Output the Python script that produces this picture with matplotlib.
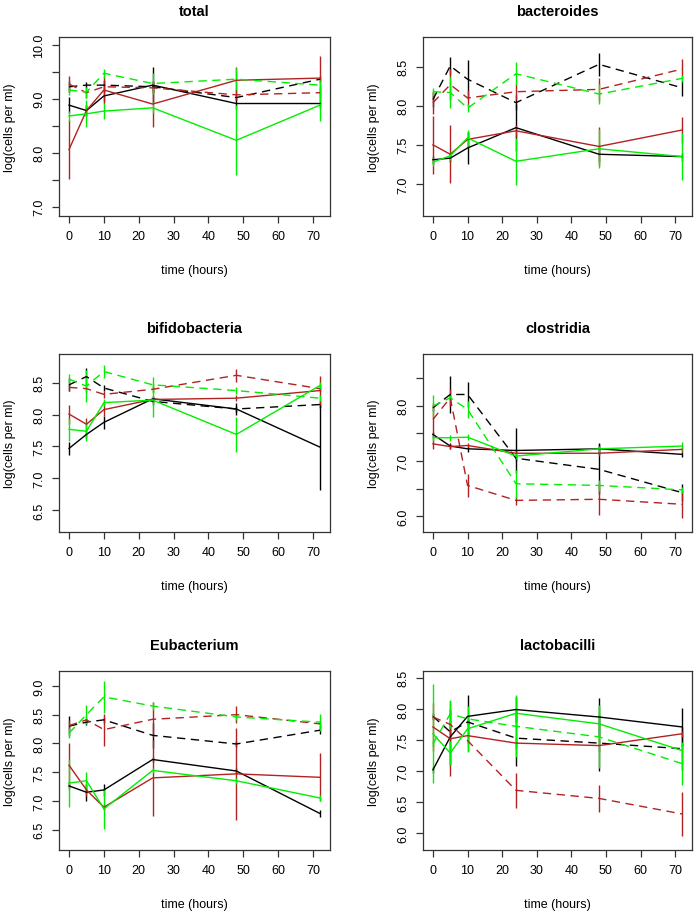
import matplotlib
matplotlib.use("Agg")
import matplotlib.pyplot as plt

plt.rcParams['font.family'] = ['Liberation Sans', 'DejaVu Sans']

# sampling times (hours)
times = [0, 5, 10, 24, 48, 72]

panel_names = ['total', 'bacteroides', 'bifidobacteria', 'clostridia',
               'Eubacterium', 'lactobacilli']

# series order: black solid, black dashed, red solid, red dashed, green solid, green dashed
total_means = [
    [8.88, 8.78, 9.05, 9.25, 8.91, 8.91],
    [9.22, 9.25, 9.25, 9.22, 9.02, 9.36],
    [8.06, 8.78, 9.16, 8.90, 9.34, 9.38],
    [9.27, 9.11, 9.22, 9.20, 9.07, 9.11],
    [8.68, 8.72, 8.77, 8.83, 8.23, 8.88],
    [9.16, 9.12, 9.47, 9.28, 9.36, 9.25],
]
total_errs = [
    [0.15, 0.10, 0.10, 0.33, 0.10, 0.08],
    [0.10, 0.05, 0.10, 0.10, 0.05, 0.05],
    [0.55, 0.10, 0.25, 0.42, 0.25, 0.40],
    [0.15, 0.10, 0.10, 0.10, 0.10, 0.10],
    [0.10, 0.25, 0.15, 0.10, 0.65, 0.30],
    [0.10, 0.10, 0.08, 0.20, 0.20, 0.10],
]

bacteroides_means = [
    [7.31, 7.33, 7.46, 7.72, 7.38, 7.35],
    [8.08, 8.51, 8.34, 8.04, 8.53, 8.23],
    [7.50, 7.38, 7.57, 7.68, 7.48, 7.69],
    [8.04, 8.27, 8.10, 8.18, 8.21, 8.47],
    [7.28, 7.36, 7.59, 7.29, 7.45, 7.35],
    [8.18, 8.17, 7.97, 8.41, 8.15, 8.35],
]
bacteroides_errs = [
    [0.05, 0.05, 0.20, 0.30, 0.10, 0.05],
    [0.10, 0.12, 0.25, 0.10, 0.15, 0.10],
    [0.37, 0.37, 0.10, 0.08, 0.25, 0.17],
    [0.15, 0.20, 0.10, 0.10, 0.15, 0.13],
    [0.05, 0.05, 0.10, 0.30, 0.25, 0.30],
    [0.05, 0.20, 0.05, 0.15, 0.13, 0.05],
]

bifido_means = [
    [7.47, 7.69, 7.88, 8.25, 8.09, 7.49],
    [8.47, 8.60, 8.42, 8.21, 8.09, 8.16],
    [8.01, 7.85, 8.08, 8.24, 8.26, 8.38],
    [8.43, 8.41, 8.32, 8.40, 8.62, 8.41],
    [7.77, 7.74, 8.19, 8.23, 7.69, 8.46],
    [8.56, 8.45, 8.68, 8.47, 8.38, 8.26],
]
bifido_errs = [
    [0.10, 0.05, 0.10, 0.05, 0.10, 0.68],
    [0.10, 0.13, 0.05, 0.05, 0.05, 0.05],
    [0.15, 0.10, 0.10, 0.05, 0.05, 0.23],
    [0.05, 0.05, 0.05, 0.05, 0.10, 0.05],
    [0.18, 0.15, 0.05, 0.27, 0.27, 0.05],
    [0.08, 0.25, 0.10, 0.13, 0.05, 0.05],
]

clostridia_means = [
    [7.48, 7.27, 7.22, 7.19, 7.22, 7.12],
    [7.96, 8.20, 8.20, 7.05, 6.85, 6.43],
    [7.31, 7.26, 7.28, 7.14, 7.14, 7.21],
    [7.75, 8.14, 6.56, 6.29, 6.31, 6.22],
    [7.42, 7.42, 7.43, 7.09, 7.22, 7.27],
    [7.99, 8.14, 7.93, 6.59, 6.56, 6.48],
]
clostridia_errs = [
    [0.05, 0.05, 0.05, 0.40, 0.10, 0.05],
    [0.05, 0.33, 0.23, 0.05, 0.45, 0.15],
    [0.10, 0.05, 0.05, 0.05, 0.05, 0.05],
    [0.30, 0.15, 0.20, 0.08, 0.28, 0.25],
    [0.05, 0.05, 0.05, 0.05, 0.05, 0.08],
    [0.20, 0.05, 0.15, 0.25, 0.10, 0.05],
]

eubacterium_means = [
    [7.26, 7.15, 7.19, 7.72, 7.52, 6.78],
    [8.30, 8.37, 8.41, 8.14, 7.99, 8.23],
    [7.62, 7.19, 6.89, 7.40, 7.47, 7.41],
    [8.31, 8.41, 8.24, 8.42, 8.50, 8.34],
    [7.31, 7.35, 6.86, 7.53, 7.35, 7.05],
    [8.18, 8.50, 8.81, 8.65, 8.46, 8.37],
]
eubacterium_errs = [
    [0.05, 0.15, 0.10, 0.05, 0.05, 0.06],
    [0.17, 0.05, 0.05, 0.22, 0.05, 0.07],
    [0.38, 0.10, 0.05, 0.66, 0.80, 0.42],
    [0.10, 0.05, 0.28, 0.30, 0.15, 0.05],
    [0.42, 0.15, 0.35, 0.05, 0.05, 0.05],
    [0.08, 0.17, 0.28, 0.07, 0.05, 0.15],
]

lacto_means = [
    [7.02, 7.55, 7.88, 7.99, 7.87, 7.71],
    [7.88, 7.63, 7.79, 7.53, 7.45, 7.36],
    [7.71, 7.52, 7.57, 7.45, 7.41, 7.60],
    [7.87, 7.75, 7.49, 6.69, 6.56, 6.31],
    [7.60, 7.29, 7.68, 7.93, 7.76, 7.33],
    [7.44, 7.92, 7.84, 7.72, 7.55, 7.12],
]
lacto_errs = [
    [0.05, 0.45, 0.35, 0.20, 0.30, 0.30],
    [0.05, 0.05, 0.05, 0.45, 0.45, 0.35],
    [0.38, 0.60, 0.25, 0.10, 0.10, 0.05],
    [0.05, 0.05, 0.05, 0.28, 0.22, 0.35],
    [0.80, 0.20, 0.37, 0.27, 0.30, 0.10],
    [0.05, 0.23, 0.05, 0.50, 0.50, 0.35],
]

all_means = [total_means, bacteroides_means, bifido_means,
             clostridia_means, eubacterium_means, lacto_means]
all_errs = [total_errs, bacteroides_errs, bifido_errs,
            clostridia_errs, eubacterium_errs, lacto_errs]

# y ranges and tick layout of each panel
ylims = [(6.83, 10.14), (6.59, 8.88), (6.155, 8.955),
         (5.72, 8.93), (6.145, 9.26), (5.73, 8.61)]
yticks = [
    [7.0, 7.5, 8.0, 8.5, 9.0, 9.5, 10.0],
    [7.0, 7.5, 8.0, 8.5],
    [6.5, 7.0, 7.5, 8.0, 8.5],
    [6.0, 6.5, 7.0, 7.5, 8.0, 8.5],
    [6.5, 7.0, 7.5, 8.0, 8.5, 9.0],
    [6.0, 6.5, 7.0, 7.5, 8.0, 8.5],
]
only_integer_labels = [True, False, False, True, False, False]

colors = ['black', 'black', '#B22222', '#B22222', '#00EE00', '#00EE00']
styles = ['-', '--', '-', '--', '-', '--']

W, H = 694, 912
fig = plt.figure(figsize=(W / 100, H / 100), dpi=100)

# pixel boxes (left, right, top, bottom)
col_x = [(59, 330), (423, 692)]
row_y = [(38, 217), (355, 533), (672, 851)]

for k in range(6):
    r, c = k // 2, k % 2
    x0, x1 = col_x[c]
    y0, y1 = row_y[r]
    ax = fig.add_axes([x0 / W, 1 - y1 / H, (x1 - x0) / W, (y1 - y0) / H])
    for s in range(6):
        ax.errorbar(times, all_means[k][s], yerr=all_errs[k][s],
                    color=colors[s], linestyle=styles[s], linewidth=1.0,
                    elinewidth=1.0, capsize=0, dashes=(6, 4) if styles[s] == '--' else (None, None))
    ax.set_xlim(-2.88, 74.88)
    ax.set_ylim(*ylims[k])
    ax.set_xticks(range(0, 71, 10))
    ax.set_yticks(yticks[k])
    if only_integer_labels[k]:
        ax.set_yticklabels(['%.1f' % v if v == int(v) else '' for v in yticks[k]])
    else:
        ax.set_yticklabels(['%.1f' % v for v in yticks[k]])
    for lab in ax.get_yticklabels():
        lab.set_rotation(90)
        lab.set_va('center')
    ax.tick_params(direction='out', length=5, width=0.9, labelsize=9, pad=5,
                   color='#333333')
    for sp in ax.spines.values():
        sp.set_linewidth(0.9)
        sp.set_color('#333333')
    ax.set_title(panel_names[k], fontsize=10.5, fontweight='bold', pad=16)
    ax.set_xlabel('time (hours)', fontsize=9, labelpad=16)
    ax.set_ylabel('log(cells per ml)', fontsize=9, labelpad=12)

fig.savefig('out.png', dpi=100)
